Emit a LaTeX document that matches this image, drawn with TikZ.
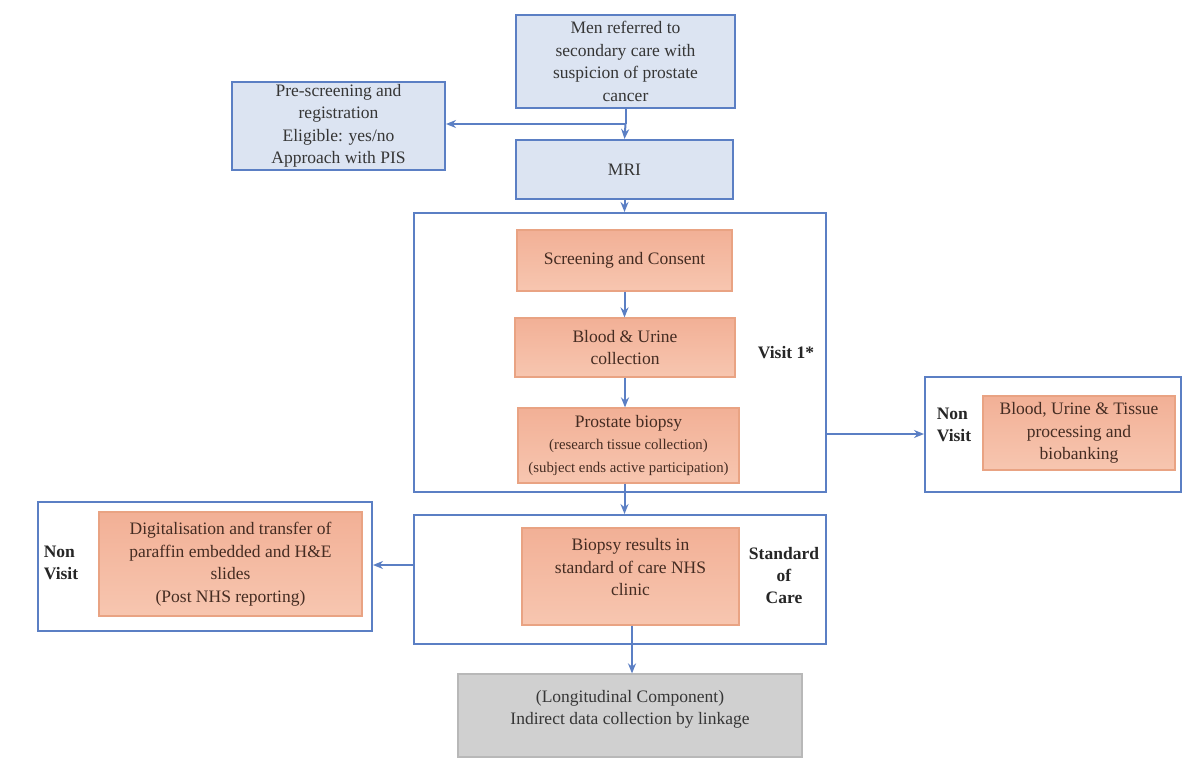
\documentclass[tikz,border=0pt]{standalone}
\usepackage{fontspec}
\setmainfont{Liberation Serif}
\usetikzlibrary{arrows.meta}
\definecolor{bfill}{HTML}{DCE4F2}
\definecolor{bline}{HTML}{5B7FC4}
\definecolor{ofillt}{HTML}{F2B096}
\definecolor{ofillb}{HTML}{F7C6B0}
\definecolor{oline}{HTML}{E9A383}
\definecolor{gfill}{HTML}{D0D0D0}
\definecolor{gline}{HTML}{B8B8B8}
\definecolor{txt}{HTML}{363636}
\definecolor{otxt}{HTML}{452C22}
\tikzset{
  every node/.style={font=\fontsize{17.5}{22.5}\selectfont, text=txt, align=center, inner sep=2pt},
  bluebox/.style={draw=bline, line width=2pt, fill=bfill},
  orangebox/.style={draw=oline, line width=1.2pt, top color=ofillt, bottom color=ofillb, text=otxt},
  greybox/.style={draw=gline, line width=1.2pt, fill=gfill},
  frame/.style={draw=bline, line width=2pt, fill=white},
  lbl/.style={font=\fontsize{17.5}{22}\selectfont\bfseries, text=black!85},
  conn/.style={draw=bline, line width=2pt, -{Stealth[length=10pt,width=8pt]}},
  plain/.style={draw=bline, line width=2pt}
}
\begin{document}
\begin{tikzpicture}[x=1pt,y=-1pt]
\useasboundingbox (0,0) rectangle (1200,771);
\fill[white] (0,0) rectangle (1200,771);
% frames
\node[frame, minimum width=412, minimum height=279] (f1) at (620,352.5) {};
\node[frame, minimum width=256, minimum height=115] (f2) at (1053,434.5) {};
\node[frame, minimum width=412, minimum height=129] (f3) at (620,579.5) {};
\node[frame, minimum width=334, minimum height=129] (f4) at (205,566.5) {};
% blue boxes
\node[bluebox, minimum width=219, minimum height=93] (men) at (625.5,61.5) {Men referred to\\secondary care with\\suspicion of prostate\\cancer};
\node[bluebox, minimum width=213, minimum height=88] (pre) at (338.5,126) {Pre-screening and\\registration\\Eligible: yes/no\\Approach with PIS};
\node[bluebox, minimum width=217, minimum height=59] (mri) at (624.5,169.5) {MRI};
% orange boxes
\node[orangebox, minimum width=215, minimum height=61] (scr) at (624.5,260.5) {Screening and Consent};
\node[orangebox, minimum width=220, minimum height=59] (blu) at (625,347.5) {Blood \& Urine\\collection};
\node[orangebox, minimum width=221, minimum height=75] (pb) at (628.5,445.5) {Prostate biopsy\\[-1pt]{\fontsize{14.8}{18}\selectfont (research tissue collection)}\\{\fontsize{14.8}{18}\selectfont (subject ends active participation)}};
\node[orangebox, minimum width=192, minimum height=74] (bio) at (1079,433) {Blood, Urine \& Tissue\\processing and\\biobanking};
\node[orangebox, minimum width=217, minimum height=97] (res) at (630.5,576.5) {Biopsy results in\\standard of care NHS\\clinic\\[-4pt]};
\node[orangebox, minimum width=263, minimum height=104] (dig) at (230.5,564) {Digitalisation and transfer of\\paraffin embedded and H\&E\\slides\\(Post NHS reporting)};
% grey box
\node[greybox, minimum width=344, minimum height=83] (lon) at (630,715.5) {(Longitudinal Component)\\Indirect data collection by linkage\\[-6pt]};
% labels
\node[lbl] (v1) at (786,353) {Visit 1*};
\node[lbl, align=left] (nv1) at (954,425) {Non\\Visit};
\node[lbl] (soc) at (784,576) {Standard\\of\\Care};
\node[lbl, align=left] (nv2) at (61,563) {Non\\Visit};
% connectors
\coordinate (br) at (men.south |- 0,124);
\draw[plain] (men.south) -- (br);
\draw[conn] (br) -- (pre.east |- br);
\draw[conn] (br) -- (mri.north);
\draw[conn] (mri.south) -- (mri.south |- f1.north);
\draw[conn] (scr.south) -- (scr.south |- blu.north);
\draw[conn] (blu.south) -- (blu.south |- pb.north);
\draw[conn] (f1.east |- 0,434) -- (f2.west |- 0,434);
\draw[conn] (pb.south -| mri.south) -- (mri.south |- f3.north);
\draw[conn] (f3.west |- 0,565) -- (f4.east |- 0,565);
\draw[conn] (res.south -| 632,0) -- (632,0 |- lon.north);
\end{tikzpicture}
\end{document}
